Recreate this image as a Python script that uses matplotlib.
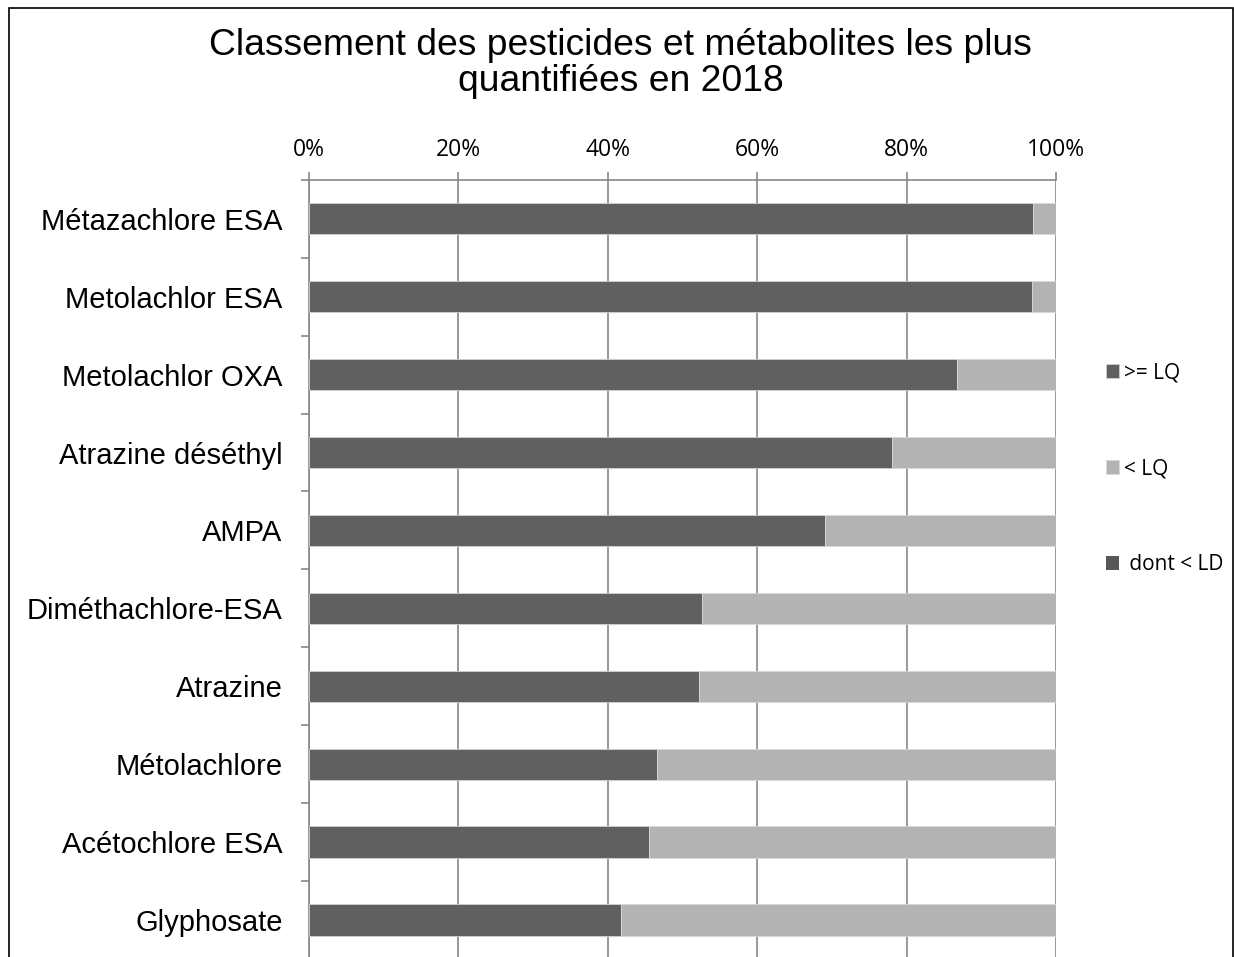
import matplotlib
matplotlib.use("Agg")
import matplotlib.pyplot as plt
import numpy as np
from matplotlib.patches import Rectangle

# Data
categories = ["Métazachlore ESA", "Metolachlor ESA", "Metolachlor OXA",
              "Atrazine déséthyl", "AMPA", "Diméthachlore-ESA", "Atrazine",
              "Métolachlore", "Acétochlore ESA", "Glyphosate"]
ge_lq = [96.9, 96.8, 86.7, 78.0, 69.1, 52.6, 52.2, 46.6, 45.5, 41.8]
lt_lq = [100 - v for v in ge_lq]
dont_ld = [0] * len(categories)

dark = "#606060"
light = "#b3b3b3"
darker = "#575757"
grid_c = "#888888"

fig = plt.figure(figsize=(12.34, 9.57), dpi=100)
ax = fig.add_axes([0.2504, -0.002, 0.6054, 0.8141])

y = np.arange(len(categories))
h = 0.4
ax.barh(y, ge_lq, height=h, color=dark, edgecolor="#d0d0d0", linewidth=0.6, label=">= LQ", zorder=3)
ax.barh(y, lt_lq, left=ge_lq, height=h, color=light, edgecolor="#d8d8d8", linewidth=0.6, label="< LQ", zorder=3)
ax.barh(y, dont_ld, height=h, color=darker, label=" dont < LD", zorder=3)

ax.set_xlim(0, 100)
ax.set_ylim(len(categories) - 0.5, -0.5)

ax.xaxis.tick_top()
ax.set_xticks(np.arange(0, 101, 20))
ax.set_xticklabels([f"{v}%" for v in range(0, 101, 20)], fontfamily="Open Sans", fontsize=16.5)
ax.tick_params(axis="x", direction="out", length=6, width=1.2, color=grid_c, pad=7)
ax.grid(axis="x", color=grid_c, linewidth=1.2, zorder=0)

ax.set_yticks(y)
ax.set_yticklabels(categories, fontfamily="Liberation Sans", fontsize=21)
ax.tick_params(axis="y", which="major", length=0, pad=19)
ax.set_yticks(np.arange(-0.5, len(categories), 1), minor=True)
ax.tick_params(axis="y", which="minor", direction="out", length=6, width=1.2, color=grid_c)

for s in ["right", "bottom"]:
    ax.spines[s].set_visible(False)
for s in ["left", "top"]:
    ax.spines[s].set_color(grid_c)
    ax.spines[s].set_linewidth(1.2)

fig.suptitle("Classement des pesticides et métabolites les plus\nquantifiées en 2018",
             x=0.503, y=0.971, fontfamily="Liberation Sans", fontsize=26.8, linespacing=1.06)

handles, labels = ax.get_legend_handles_labels()
leg = fig.legend(handles, labels, loc="center left", bbox_to_anchor=(0.8965, 0.51),
                 frameon=False, prop={"family": "Open Sans", "size": 15},
                 borderpad=0, borderaxespad=0,
                 handlelength=0.6, handleheight=0.6, handletextpad=0.25, labelspacing=3.6)

fig.patches.append(Rectangle((0.0075, -0.01), 0.9915, 1.002, transform=fig.transFigure,
                             fill=False, edgecolor="black", linewidth=1.2))

fig.savefig("out.png", dpi=100)
